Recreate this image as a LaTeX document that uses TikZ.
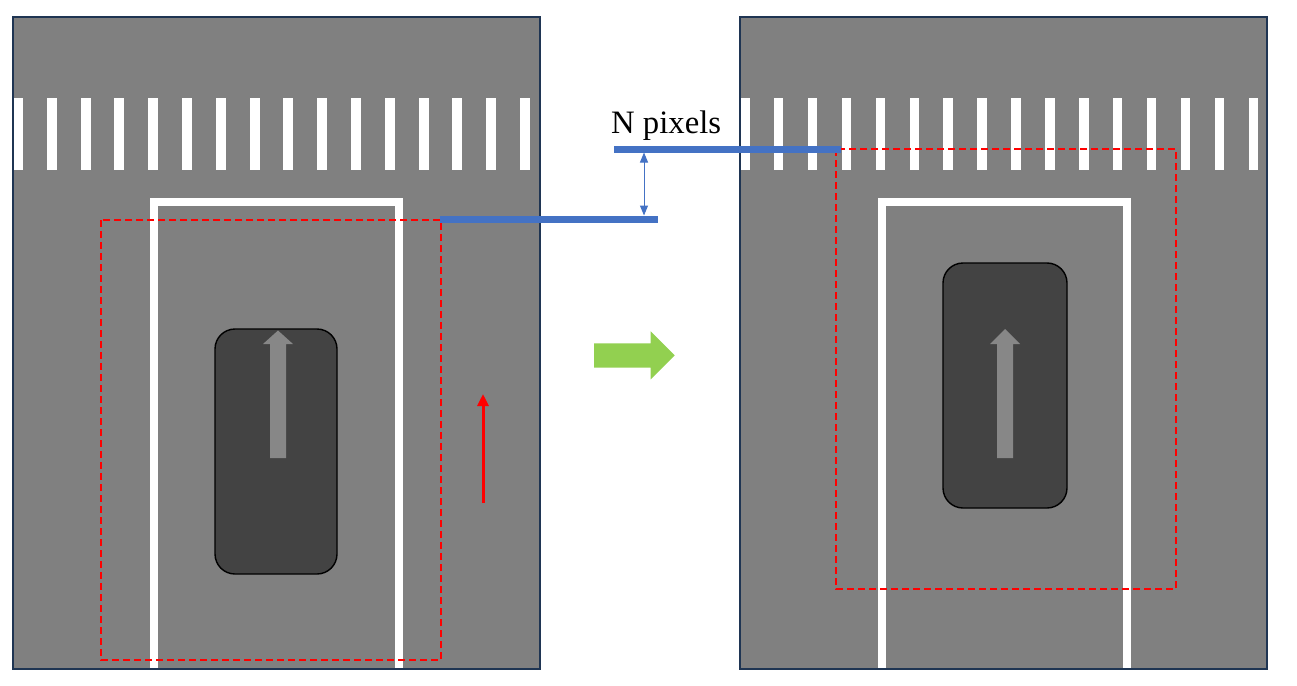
\documentclass[tikz,border=0pt]{standalone}
\usepackage{fontspec}
\setmainfont{Liberation Serif}
\usetikzlibrary{arrows.meta}
\definecolor{road}{HTML}{808080}
\definecolor{panelborder}{HTML}{1F3553}
\definecolor{carfill}{HTML}{434343}
\definecolor{cararrow}{HTML}{878787}
\definecolor{barblue}{HTML}{4472C4}
\definecolor{arrowgreen}{HTML}{92D050}
\tikzset{
  panel/.style={fill=road},
  panelframe/.style={draw=panelborder, line width=1.6},
  stripe/.style={fill=white},
  bayline/.style={draw=white, line width=8, line join=miter, line cap=butt},
  roi/.style={draw=red, line width=2, dash pattern=on 7 off 4},
  car/.style={draw=black, line width=1.4, fill=carfill, rounded corners=20},
  carmark/.style={fill=cararrow},
  bar/.style={draw=barblue, line width=7},
  gap/.style={draw=barblue, line width=1, {Triangle[width=8,length=10]}-{Triangle[width=8,length=10]}},
  motion/.style={draw=red, line width=3, -{Triangle[width=11,length=12]}},
  bigarrow/.style={fill=arrowgreen},
  lbl/.style={font=\fontsize{32.7}{36}\selectfont, inner sep=0, anchor=base west}
}
\begin{document}
\begin{tikzpicture}[x=1pt, y=-1pt]
\useasboundingbox (0,0) rectangle (1297,685);

% panels
\fill[panel] (13,17) rectangle (540,669);
\fill[panel] (740,17) rectangle (1267,669);

% crosswalk stripes
\foreach \i in {0,...,15} {
  \fill[stripe] ({13+\i*33.8},98) rectangle ({23+\i*33.8},170);
  \fill[stripe] ({740+\i*33.9},98) rectangle ({749.5+\i*33.9},170);
}

% parking bays
\draw[bayline] (154,669) -- (154,201.5) -- (399,201.5) -- (399,669);
\draw[bayline] (882,669) -- (882,201.5) -- (1127,201.5) -- (1127,669);

% regions of interest
\draw[roi] (101,220) rectangle (441,660);
\draw[roi] (836,149) rectangle (1176,589);

% cars
\draw[car] (215,329) rectangle (337,574);
\draw[car] (943,263) rectangle (1067,508);
\fill[carmark] (270,458) -- (270,344) -- (263,344) -- (278,330.5) -- (293,344) -- (286,344) -- (286,458) -- cycle;
\fill[carmark] (997,458) -- (997,344) -- (990,344) -- (1005,329) -- (1020,344) -- (1013,344) -- (1013,458) -- cycle;

% panel frames
\draw[panelframe] (13,17) rectangle (540,669);
\draw[panelframe] (740,17) rectangle (1267,669);

% offset bars
\coordinate (b1s) at (440,219);
\coordinate (b1e) at (658,219);
\coordinate (b2s) at (614,149);
\coordinate (b2e) at (841,149);
\draw[bar] (b1s) -- (b1e);
\draw[bar] (b2s) -- (b2e);
\coordinate (g1) at (644,152.5);
\coordinate (g2) at (644,215.5);
\draw[gap] (g1) -- (g2);
\node[lbl] (npix) at (611,133) {N pixels};

% motion arrow
\coordinate (m1) at (483,503);
\coordinate (m2) at (483,394);
\draw[motion] (m1) -- (m2);

% transition arrow
\fill[bigarrow] (594,343.3) -- (650.7,343.3) -- (650.7,331.3) -- (674.7,355.3) -- (650.7,379.3) -- (650.7,367.7) -- (594,367.7) -- cycle;
\end{tikzpicture}
\end{document}
